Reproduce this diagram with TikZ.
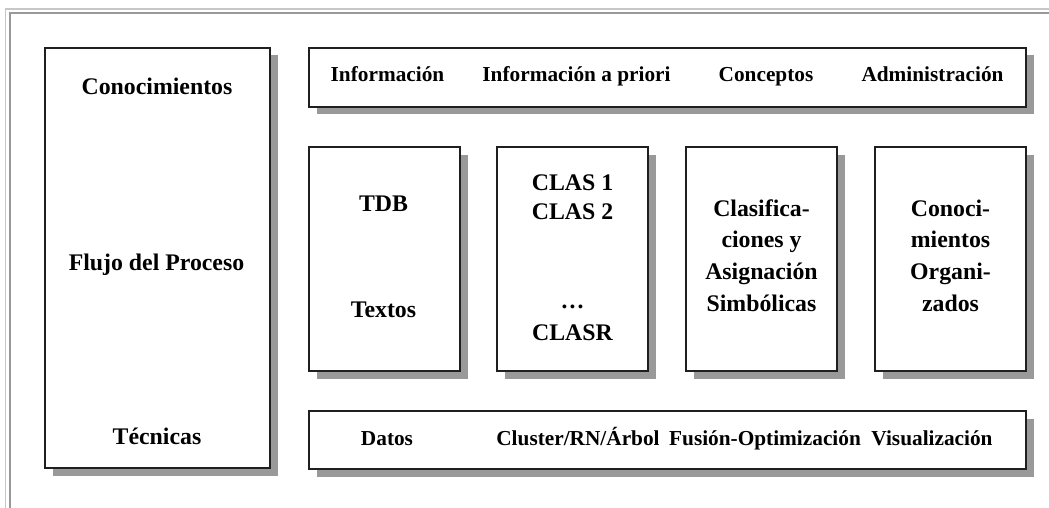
\documentclass[tikz,border=0pt]{standalone}
\usepackage{fontspec}
\setmainfont{Liberation Serif}
\usetikzlibrary{shadows}
\begin{document}
\begin{tikzpicture}[x=1pt, y=-1pt,
  panel/.style={draw=black!88, line width=1.2pt, fill=white, inner sep=0pt,
    drop shadow={shadow xshift=7.5pt, shadow yshift=-7.5pt, fill=black!40, opacity=1}},
  biglabel/.style={font=\fontsize{23.8}{30}\selectfont\bfseries, inner sep=0pt, anchor=base},
  rowlabel/.style={font=\fontsize{21.3}{26}\selectfont\bfseries, inner sep=0pt, anchor=base},
  framelight/.style={draw=black!22, line width=1.2pt},
  framedark/.style={draw=black!40, line width=2pt}]
\useasboundingbox (0,0) rectangle (1049,508);

% sunken frame along the top and left edges
\draw[framelight] (5.5,508) -- (5.5,9) -- (1049,9);
\draw[framedark] (9.5,508) -- (9.5,13) -- (1049,13);

% panels
\node[panel, minimum width=225pt, minimum height=420pt] (side) at (157.5,258) {};
\node[panel, minimum width=717pt, minimum height=59pt] (toprow) at (667.5,77.5) {};
\node[panel, minimum width=717pt, minimum height=58pt] (botrow) at (667.5,440) {};
\node[panel, minimum width=151pt, minimum height=224pt] (m1) at (384.5,259) {};
\node[panel, minimum width=151pt, minimum height=224pt] (m2) at (572.5,259) {};
\node[panel, minimum width=151pt, minimum height=224pt] (m3) at (761.5,259) {};
\node[panel, minimum width=151pt, minimum height=224pt] (m4) at (950.5,259) {};

% side column labels
\node[biglabel] (sideA) at (157,94.3) {Conocimientos};
\node[biglabel] (sideB) at (156.5,270) {Flujo del Proceso};
\node[biglabel] (sideC) at (157,444) {Técnicas};

% top row
\node[rowlabel] (t1) at (387.5,81.5) {Información};
\node[rowlabel] (t2) at (576.5,81.5) {Información a priori};
\node[rowlabel] (t3) at (766,81.5) {Conceptos};
\node[rowlabel] (t4) at (932.5,81.5) {Administración};

% bottom row
\node[rowlabel] (b1) at (387,445.5) {Datos};
\node[rowlabel] (b2) at (578,445.5) {Cluster/RN/Árbol};
\node[rowlabel] (b3) at (765,445.5) {Fusión-Optimización};
\node[rowlabel] (b4) at (932,445.5) {Visualización};

% middle boxes
\node[biglabel] (m1a) at (383.5,211) {TDB};
\node[biglabel] (m1b) at (383.5,317.3) {Textos};

\node[biglabel] (m2a) at (572.5,190) {CLAS 1};
\node[biglabel] (m2b) at (572.5,219) {CLAS 2};
\node[biglabel] (m2c) at (572.5,308) {…};
\node[biglabel] (m2d) at (572.5,340) {CLASR};

\foreach \txt [count=\i] in {Clasifica-, ciones y, Asignación, Simbólicas}
  \node[biglabel] (m3l\i) at (761.5,{216+31.7*(\i-1)}) {\txt};
\foreach \txt [count=\i] in {Conoci-, mientos, Organi-, zados}
  \node[biglabel] (m4l\i) at (950.5,{216+31.7*(\i-1)}) {\txt};
\end{tikzpicture}
\end{document}
